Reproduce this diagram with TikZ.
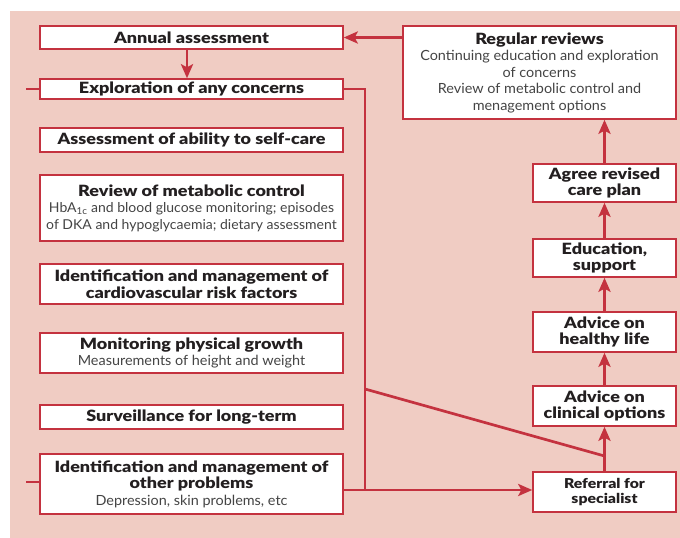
\documentclass[tikz,border=0pt]{standalone}
\usepackage{fontspec}
\setmainfont{Lato}
\IfFontExistsTF{Lato Black}
  {\newfontfamily\hdfont{Lato Black}[FakeStretch=1.16]\newcommand{\hdsel}{}}
  {\newfontfamily\hdfont{Lato}[BoldFeatures={FakeStretch=1.22}]\newcommand{\hdsel}{\bfseries}}
\newfontfamily\sbfont{Lato}[FakeStretch=1.03]
\usetikzlibrary{arrows.meta}
\definecolor{bgpink}{HTML}{F0CCC3}
\definecolor{redline}{HTML}{C4323F}
\definecolor{txtc}{HTML}{231F20}
\definecolor{subc}{HTML}{444444}
\newcommand{\hd}[1]{{\hdfont\hdsel\color{txtc}#1}}
\newcommand{\sbt}[1]{{\sbfont\fontsize{14}{16}\selectfont\color{subc}#1}}
\tikzset{
  box/.style={draw=redline, fill=white, line width=1.5pt, inner sep=0pt, align=center,
    font=\fontsize{15.5}{16.5}\selectfont},
  lbox/.style={box, minimum width=303pt},
  rbox/.style={box, minimum width=143pt},
  conn/.style={draw=redline, line width=2.7pt},
  arr/.style={conn, -{Stealth[length=14pt,width=12pt,inset=3pt]}},
}
\begin{document}
\begin{tikzpicture}[x=1pt,y=-1pt]
\useasboundingbox (0,0) rectangle (680,538);
\fill[white] (0,0) rectangle (680,538);
\fill[bgpink] (10,11) rectangle (680,538);
% left column
\node[lbox, minimum height=23pt] (annual) at (191.5,37.5) {\hd{Annual assessment}};
\node[lbox, minimum height=20pt] (explore) at (191.5,89) {\hd{Exploration of any concerns}};
\node[lbox, minimum height=24pt] (selfcare) at (191.5,140) {\hd{Assessment of ability to self-care}};
\node[lbox, minimum height=66pt] (metab) at (191.5,208) {\hd{Review of metabolic control}\\
  \sbt{\fontsize{13.6}{16}\selectfont HbA\textsubscript{1c} and blood glucose monitoring; episodes}\\
  \sbt{\fontsize{13.6}{16}\selectfont of DKA and hypoglycaemia; dietary assessment}};
\node[lbox, minimum height=40pt] (cardio) at (191.5,284) {\hd{Identification and management of}\\ \hd{cardiovascular risk factors}};
\node[lbox, minimum height=40pt] (growth) at (191.5,353) {\hd{Monitoring physical growth}\\ \sbt{Measurements of height and weight}};
\node[lbox, minimum height=24pt] (surv) at (191.5,417) {\hd{Surveillance for long-term}};
\node[lbox, minimum height=60pt] (other) at (191.5,484) {\hd{Identification and management of}\\ \hd{other problems}\\ \sbt{Depression, skin problems, etc}};
% right column
\node[box, minimum width=273pt, minimum height=93pt] (regular) at (539.5,72.5) {\hd{Regular reviews}\\
  \sbt{Continuing education and exploration}\\ \sbt{of concerns}\\
  \sbt{Review of metabolic control and}\\ \sbt{menagement options}};
\node[rbox, minimum height=38pt] (agree) at (604.5,183) {\hd{Agree revised}\\ \hd{care plan}};
\node[rbox, minimum height=38pt] (edu) at (604.5,258) {\hd{Education,}\\ \hd{support}};
\node[rbox, minimum height=40pt] (healthy) at (604.5,332) {\hd{Advice on}\\ \hd{healthy life}};
\node[rbox, minimum height=40pt] (clinical) at (604.5,406) {\hd{Advice on}\\ \hd{clinical options}};
\node[rbox, minimum height=40pt, font=\fontsize{13.6}{15.5}\selectfont] (referral) at (604.5,492) {\hd{Referral for}\\ \hd{specialist}};
% connectors
\coordinate (busbot) at (365,490);
\coordinate (dA) at (365,389);
\coordinate (dB) at (604.5,456);
\draw[arr] ([xshift=-4.5pt]annual.south) -- ([xshift=-4.5pt]explore.north);
\draw[arr] (regular.west |- annual.east) -- (annual.east);
\draw[conn] (explore.east) -| (busbot) -- (other.east |- busbot);
\draw[arr] (busbot) -- (referral.west |- busbot);
\draw[conn] (dA) -- (dB);
\draw[conn] (explore.west) -- ++(-13,0);
\draw[conn] ([yshift=2pt]other.west) -- ++(-13,0);
\draw[arr] (referral.north) -- (clinical.south);
\draw[arr] (clinical.north) -- (healthy.south);
\draw[arr] (healthy.north) -- (edu.south);
\draw[arr] (edu.north) -- (agree.south);
\draw[arr] (agree.north) -- (regular.south -| agree.north);
\end{tikzpicture}
\end{document}
